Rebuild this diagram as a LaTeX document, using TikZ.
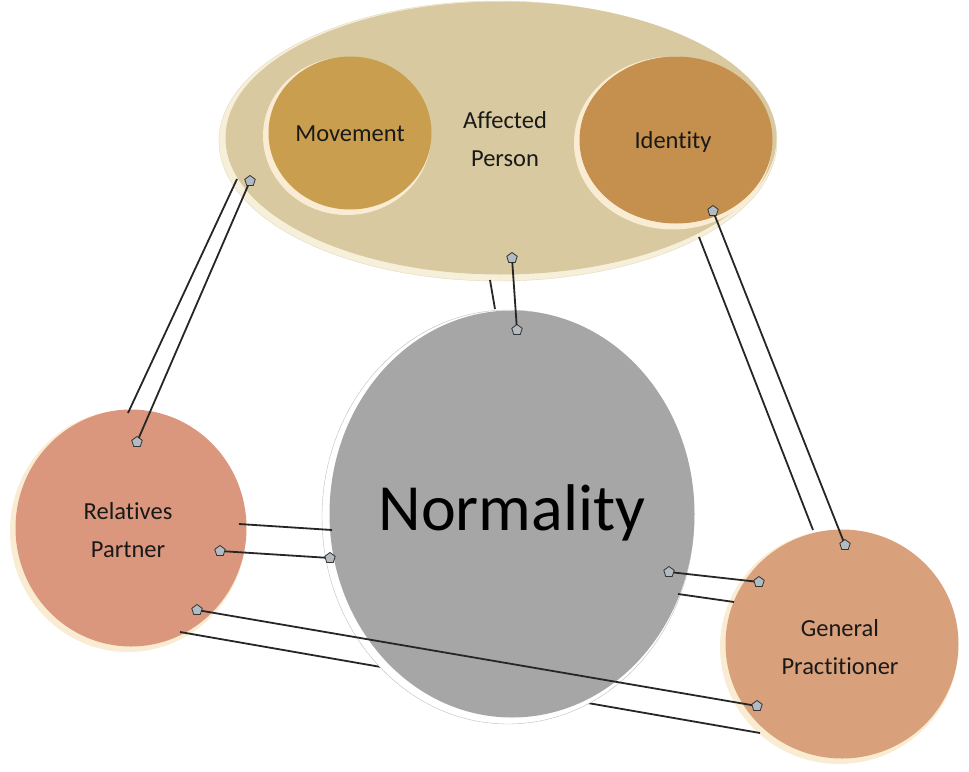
\documentclass[tikz,border=0pt]{standalone}
\usepackage{fontspec}
\setmainfont[Ligatures=NoCommon]{Carlito}
\usetikzlibrary{shapes.geometric}
\definecolor{tanC}{RGB}{216,201,160}
\definecolor{tanRim}{RGB}{246,239,218}
\definecolor{movC}{RGB}{201,159,79}
\definecolor{idC}{RGB}{197,143,78}
\definecolor{relC}{RGB}{218,151,125}
\definecolor{gpC}{RGB}{217,160,124}
\definecolor{normC}{RGB}{166,166,166}
\definecolor{warmRim}{RGB}{250,236,210}
\definecolor{markC}{RGB}{178,186,194}
\definecolor{txtC}{RGB}{25,25,25}
\begin{document}
\begin{tikzpicture}[x=1pt,y=-1pt,
  shapebase/.style={ellipse, inner sep=0pt, outer sep=0pt},
  lbl/.style={text=txtC, font=\fontsize{24.5}{38}\selectfont, align=center},
  link/.style={draw=black!85, line width=1.8pt},
  pin/.style={regular polygon, regular polygon sides=5, minimum size=11pt, inner sep=0pt, outer sep=0pt, draw=black!80, fill=markC, line width=0.8pt}]
\useasboundingbox (0,0) rectangle (969,771);

% Affected person ellipse
\node[shapebase, fill=tanRim, draw=tanC!70!white, minimum width=558pt, minimum height=280pt] (affrim) at (498,141) {};
\node[shapebase, fill=tanC, minimum width=551pt, minimum height=273pt] (aff) at (501,138) {};
\node[lbl] (afftxt) at (505,139) {Affected\\Person};

% Movement and Identity
\node[shapebase, fill=warmRim, minimum width=168pt, minimum height=158pt] (movrim) at (347,136) {};
\node[shapebase, fill=movC, minimum width=163pt, minimum height=153pt] (mov) at (350,133) {};
\node[lbl] (movtxt) at (350,134) {Movement};
\node[shapebase, fill=warmRim, minimum width=198pt, minimum height=173pt] (idrim) at (673,143) {};
\node[shapebase, fill=idC, minimum width=193pt, minimum height=167pt] (id) at (676,140) {};
\node[lbl] (idtxt) at (673,142) {Identity};

% Relatives and GP
\node[shapebase, fill=warmRim, minimum width=236pt, minimum height=242pt] (relrim) at (128,531) {};
\node[shapebase, fill=relC, minimum width=231pt, minimum height=237pt] (rel) at (131,528) {};
\node[lbl] (reltxt) at (128,530) {Relatives\\Partner};
\node[shapebase, fill=warmRim, minimum width=238pt, minimum height=234pt] (gprim) at (839,647) {};
\node[shapebase, fill=gpC, minimum width=233pt, minimum height=229pt] (gp) at (842,644) {};
\node[lbl] (gptxt) at (840,647) {General\\Practitioner};

% hidden line behind Normality
\coordinate (r6a) at (180,632);
\coordinate (g6a) at (760,733);
\draw[link] (r6a) -- (g6a);

% Normality
\node[shapebase, fill=white, draw=black!25, minimum width=372pt, minimum height=414pt] (normrim) at (508,517) {};
\node[shapebase, fill=normC, minimum width=365pt, minimum height=407pt] (norm) at (512,514) {};
\node[text=black, font=\fontsize{66}{70}\selectfont] (normtxt) at (512,513) {Normality};

% pair 1: Affected -- Relatives
\coordinate (a1a) at (237,179);
\coordinate (r1a) at (128,413);
\draw[link] (a1a) -- (r1a);
\node[pin] (a1b) at (250,181) {};
\node[pin] (r1b) at (137,442) {};
\draw[link] (a1b) -- (r1b);

% pair 2: Affected -- Normality
\coordinate (a2a) at (490,280);
\coordinate (n2a) at (495,309);
\draw[link] (a2a) -- (n2a);
\node[pin] (a2b) at (512,258) {};
\node[pin] (n2b) at (517,330) {};
\draw[link] (a2b) -- (n2b);

% pair 3: Identity -- GP
\coordinate (i3a) at (699,237);
\coordinate (g3a) at (813,530);
\draw[link] (i3a) -- (g3a);
\node[pin] (i3b) at (713,211) {};
\node[pin] (g3b) at (845,545) {};
\draw[link] (i3b) -- (g3b);

% pair 4: Relatives -- Normality
\coordinate (r4a) at (239,524);
\coordinate (n4a) at (332,530);
\draw[link] (r4a) -- (n4a);
\node[pin] (r4b) at (220,551) {};
\node[pin] (n4b) at (330,558) {};
\draw[link] (r4b) -- (n4b);

% pair 5: Normality -- GP
\node[pin] (n5b) at (669,572) {};
\node[pin] (g5b) at (759,582) {};
\draw[link] (n5b) -- (g5b);
\coordinate (n5a) at (678,594);
\coordinate (g5a) at (734,602);
\draw[link] (n5a) -- (g5a);

% pair 6: Relatives -- GP (visible line)
\node[pin] (r6b) at (197,610) {};
\node[pin] (g6b) at (757,706) {};
\draw[link] (r6b) -- (g6b);
\end{tikzpicture}
\end{document}
